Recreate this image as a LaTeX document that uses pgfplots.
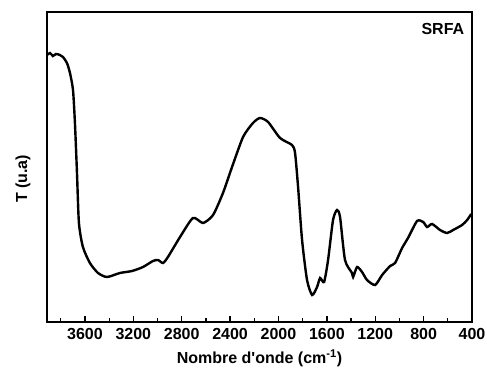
\documentclass[border=0pt]{standalone}
\usepackage{fontspec}
\setmainfont{Liberation Sans}
\usepackage{pgfplots}
\pgfplotsset{compat=1.18}
\begin{document}
\begin{tikzpicture}
\begin{axis}[
  scale only axis, width=425pt, height=310pt,
  x dir=reverse,
  xmin=400, xmax=3914, ymin=0, ymax=310,
  xtick={400,800,...,3600},
  minor xtick={600,1000,...,3800},
  xtick pos=bottom, ytick=\empty,
  tick align=inside,
  major tick length=6pt, minor tick length=4pt,
  every tick/.style={line width=1.3pt, black},
  axis line style={line width=1.5pt},
  /pgf/number format/assume math mode=true,
  /pgf/number format/1000 sep={},
  xticklabel style={font=\fontsize{16}{18}\selectfont\bfseries, yshift=-3pt},
  xlabel={Nombre d\textquotesingle onde (cm\textsuperscript{-1})},
  ylabel={T (u.a)},
  xlabel style={font=\fontsize{16}{18}\selectfont\bfseries, yshift=-3pt},
  ylabel style={font=\fontsize{16}{18}\selectfont\bfseries, yshift=13pt, xshift=-12pt},
  clip=false,
]
\addplot[line width=2.4pt, smooth, tension=0.4] coordinates {
(3914,267) (3889,269) (3865,266) (3840,268) (3807,267) (3782,265) (3749,259)
(3724,249) (3699,232) (3683,199) (3666,149) (3650,99) (3617,75) (3559,59)
(3492,49) (3418,45) (3311,49) (3211,51) (3120,55) (3038,61) (2996,62)
(2955,59) (2914,65) (2814,85) (2707,104) (2624,99) (2541,107) (2459,129)
(2384,155) (2293,185) (2211,199) (2153,204) (2086,200) (1987,184) (1888,177)
(1863,169) (1838,135) (1805,82) (1764,42) (1722,27) (1681,35) (1656,44)
(1623,40) (1590,62) (1549,102) (1516,112) (1491,105) (1450,62) (1392,49)
(1383,45) (1350,55) (1309,50) (1268,42) (1201,37) (1143,47) (1077,56)
(1036,59) (978,74) (929,84) (854,101) (804,100) (771,95) (730,98)
(664,92) (606,89) (556,92) (482,97) (440,102) (407,108)
};
\node[anchor=north east, font=\fontsize{16}{18}\selectfont\bfseries] at (rel axis cs:0.99,0.975) {SRFA};
\end{axis}
\pgfresetboundingbox
\useasboundingbox (-47pt,-52pt) rectangle (440pt,322pt);
\end{tikzpicture}
\end{document}
